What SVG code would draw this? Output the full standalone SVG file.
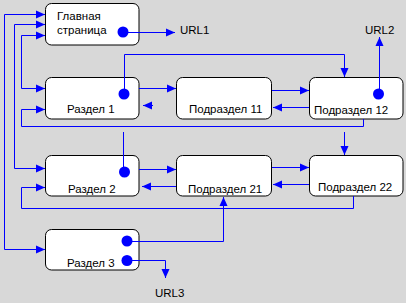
<svg xmlns="http://www.w3.org/2000/svg" width="406" height="303" viewBox="0 0 406 303">
<style>
.bg{fill:#d8d8d8}
.node rect{fill:#fff;stroke:#000;stroke-width:1}
text{font-family:"Liberation Sans",Arial,sans-serif;font-size:11.5px;fill:#000}
.c path{fill:none;stroke:#0000ff;stroke-width:1}
.dot{fill:#0000ff}
</style>
<defs>
<marker id="a" markerUnits="userSpaceOnUse" markerWidth="10" markerHeight="10" refX="9" refY="4.5" orient="auto-start-reverse">
<path d="M0,0.5 L9,4.5 L0,8.5 z" fill="#0000ff"/>
</marker>
</defs>
<rect class="bg" width="406" height="303"/>
<g id="main" class="node">
<rect x="45.5" y="3.5" width="93.5" height="41.5" rx="6"/>
<text x="57" y="20">Главная</text>
<text x="57" y="34">страница</text>
<circle class="dot" cx="123" cy="32" r="5.5"/>
</g>
<g id="url1"><text x="180" y="34">URL1</text></g>
<g id="r1" class="node">
<rect x="45.5" y="77.5" width="93.5" height="41.5" rx="6"/>
<text x="67" y="113">Раздел 1</text>
<circle class="dot" cx="124" cy="94" r="5.5"/>
</g>
<g id="p11" class="node">
<rect x="176.5" y="77.5" width="95" height="41.5" rx="6"/>
<text x="189" y="113">Подраздел 11</text>
</g>
<g id="p12" class="node">
<rect x="309.5" y="77.5" width="93.5" height="41.5" rx="6"/>
<text x="314" y="114">Подраздел 12</text>
<circle class="dot" cx="378.5" cy="94" r="5.5"/>
</g>
<g id="url2"><text x="365" y="34">URL2</text></g>
<g id="r2" class="node">
<rect x="45.5" y="155.5" width="93.5" height="40.5" rx="6"/>
<text x="68" y="193">Раздел 2</text>
<circle class="dot" cx="124.5" cy="172" r="5.5"/>
</g>
<g id="p21" class="node">
<rect x="176.5" y="155.5" width="95" height="40.5" rx="6"/>
<text x="188" y="193">Подраздел 21</text>
</g>
<g id="p22" class="node">
<rect x="309.5" y="155.5" width="93.5" height="40.5" rx="6"/>
<text x="318" y="191">Подраздел 22</text>
</g>
<g id="r3" class="node">
<rect x="45.5" y="229.5" width="93.5" height="40.5" rx="6"/>
<text x="67" y="267">Раздел 3</text>
<circle class="dot" cx="127" cy="241" r="5.5"/>
<circle class="dot" cx="127" cy="260.5" r="5.5"/>
</g>
<g id="url3"><text x="155" y="297">URL3</text></g>
<g class="c">
<path d="M4.5,131 V14.5 H45" marker-end="url(#a)"/>
<path d="M4.5,131 V249.5 H45" marker-end="url(#a)"/>
<path d="M14.5,100 V24.5 H45" marker-end="url(#a)"/>
<path d="M14.5,100 V168.5 H45" marker-end="url(#a)"/>
<path d="M21.5,60 V35.5 H45" marker-end="url(#a)"/>
<path d="M21.5,60 V88.5 H45" marker-end="url(#a)"/>
<path d="M123,32.5 H175" marker-end="url(#a)"/>
<path d="M139,88.5 H176" marker-end="url(#a)"/>
<path d="M153,105.5 H143" marker-end="url(#a)"/>
<path d="M124.5,94 V54.5 H344.5 V77" marker-end="url(#a)"/>
<path d="M272,90.5 H309" marker-end="url(#a)"/>
<path d="M309,107.5 H273" marker-end="url(#a)"/>
<path d="M379.5,94 V37" marker-end="url(#a)"/>
<path d="M363.5,119 V126.5 H21.5 V109.5 H45" marker-end="url(#a)"/>
<path d="M123.5,132 V172"/>
<path d="M344.5,132 V155" marker-end="url(#a)"/>
<path d="M139,169.5 H176" marker-end="url(#a)"/>
<path d="M176,186.5 H142" marker-end="url(#a)"/>
<path d="M272,167.5 H309" marker-end="url(#a)"/>
<path d="M309,184.5 H273" marker-end="url(#a)"/>
<path d="M353.5,196 V208.5 H21.5 V187.5 H45" marker-end="url(#a)"/>
<path d="M127,241.5 H223.5 V197" marker-end="url(#a)"/>
<path d="M127,260.5 H165.5 V278" marker-end="url(#a)"/>
</g>
</svg>
